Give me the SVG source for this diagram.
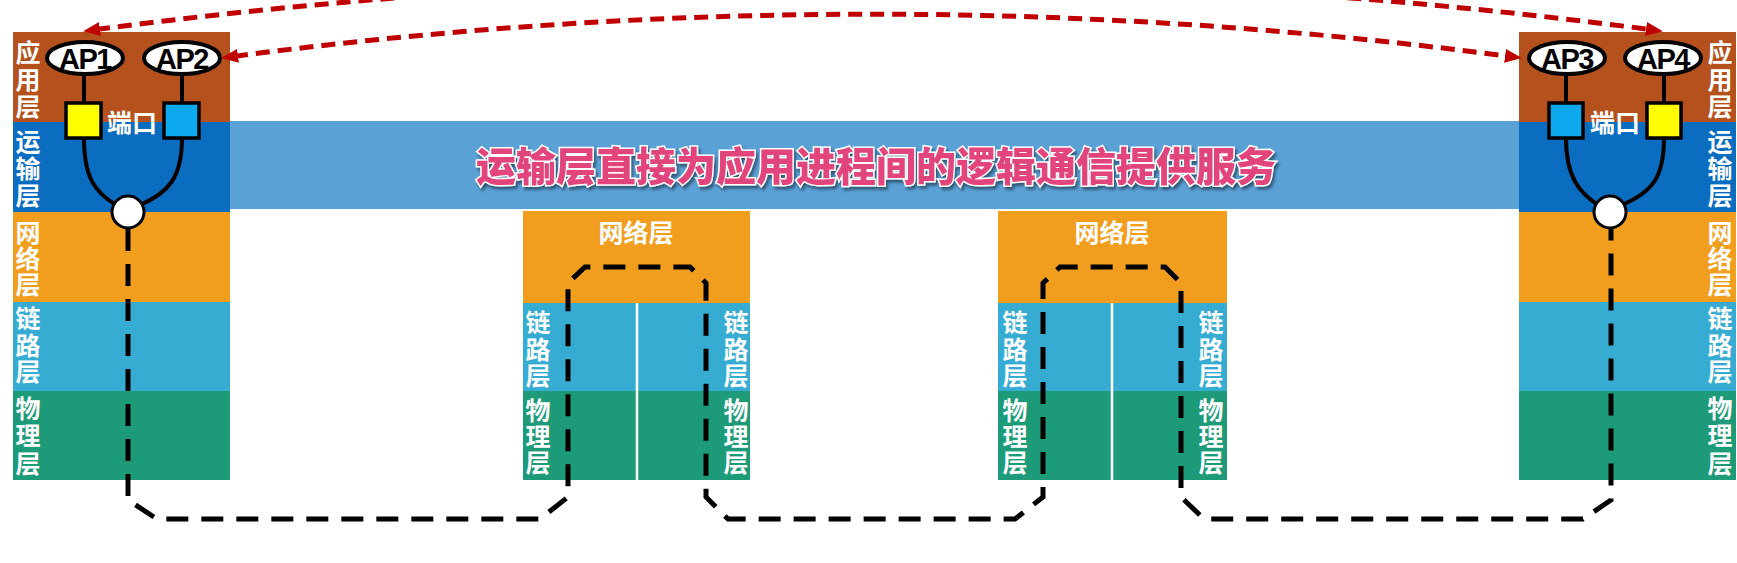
<svg xmlns="http://www.w3.org/2000/svg" width="1737" height="563" viewBox="0 0 1737 563">
<defs>
<style>
.app{fill:#B5511C}
.tra{fill:#0A6DBF}
.net{fill:#F19E1F}
.lnk{fill:#36ACD2}
.phy{fill:#1D9A77}
.lbl{font-family:"Liberation Sans","Noto Sans CJK SC",sans-serif;font-weight:bold;font-size:25px;fill:#fff;text-anchor:middle}
.ap{fill:#fff;stroke:#000;stroke-width:4}
.apt{font-family:"Liberation Sans",sans-serif;font-weight:bold;font-size:29px;fill:#000;text-anchor:middle;letter-spacing:-1.5px}
.wire{fill:none;stroke:#000;stroke-width:4}
.port{stroke:#000;stroke-width:3.5}
.path{fill:none;stroke:#000;stroke-width:5;stroke-dasharray:22 13}
.red{fill:none;stroke:#C00000;stroke-width:5;stroke-dasharray:14 8}
.title{font-family:"Noto Sans CJK SC",sans-serif;font-weight:900;font-size:40px;fill:#E2447C;stroke:#fff;stroke-width:3;paint-order:stroke;text-anchor:middle}
</style>
<marker id="ah" markerUnits="userSpaceOnUse" markerWidth="18" markerHeight="14" refX="4" refY="7" orient="auto-start-reverse">
<path d="M0,0 L17,7 L0,14 z" fill="#C00000"/>
</marker>
<filter id="sh" x="-5%" y="-30%" width="110%" height="160%">
<feDropShadow dx="2" dy="3" stdDeviation="1.5" flood-color="#000" flood-opacity="0.45"/>
</filter>
</defs>
<rect width="1737" height="563" fill="#fff"/>

<g id="band">
<rect x="230" y="121" width="1289" height="88" fill="#5AA1D6"/>
<text class="title" x="876" y="181" filter="url(#sh)">运输层直接为应用进程间的逻辑通信提供服务</text>
</g>

<g id="host-left">
<rect class="app" x="13" y="32" width="217" height="90"/>
<rect class="tra" x="13" y="122" width="217" height="90"/>
<rect class="net" x="13" y="212" width="217" height="90"/>
<rect class="lnk" x="13" y="302" width="217" height="89"/>
<rect class="phy" x="13" y="391" width="217" height="89"/>
<text class="lbl"><tspan x="28" y="62">应</tspan><tspan x="28" y="89">用</tspan><tspan x="28" y="116">层</tspan></text>
<text class="lbl"><tspan x="28" y="151">运</tspan><tspan x="28" y="178">输</tspan><tspan x="28" y="205">层</tspan></text>
<text class="lbl"><tspan x="28" y="242">网</tspan><tspan x="28" y="268">络</tspan><tspan x="28" y="294">层</tspan></text>
<text class="lbl"><tspan x="28" y="328">链</tspan><tspan x="28" y="355">路</tspan><tspan x="28" y="381">层</tspan></text>
<text class="lbl"><tspan x="28" y="418">物</tspan><tspan x="28" y="445">理</tspan><tspan x="28" y="473">层</tspan></text>
<line class="wire" x1="84" y1="74" x2="84" y2="104"/>
<line class="wire" x1="182" y1="74" x2="182" y2="104"/>
<path class="wire" d="M84 138 C84 178 95 192 116 205"/>
<path class="wire" d="M182 138 C182 178 168 193 140 205"/>
<rect class="port" x="66" y="103" width="35" height="35" fill="#FFFF00"/>
<rect class="port" x="164" y="103" width="35" height="35" fill="#0DA9EE"/>
<text class="lbl" x="132" y="132">端口</text>
<ellipse class="ap" cx="85" cy="58" rx="38" ry="16"/>
<text class="apt" x="85" y="69">AP1</text>
<ellipse class="ap" cx="182" cy="58" rx="38" ry="16"/>
<text class="apt" x="182" y="69">AP2</text>
<circle cx="128" cy="212" r="16" fill="#fff" stroke="#000" stroke-width="3"/>
</g>

<g id="host-right">
<rect class="app" x="1519" y="32" width="217" height="90"/>
<rect class="tra" x="1519" y="122" width="217" height="90"/>
<rect class="net" x="1519" y="212" width="217" height="90"/>
<rect class="lnk" x="1519" y="302" width="217" height="89"/>
<rect class="phy" x="1519" y="391" width="217" height="89"/>
<text class="lbl"><tspan x="1720" y="62">应</tspan><tspan x="1720" y="89">用</tspan><tspan x="1720" y="116">层</tspan></text>
<text class="lbl"><tspan x="1720" y="151">运</tspan><tspan x="1720" y="178">输</tspan><tspan x="1720" y="205">层</tspan></text>
<text class="lbl"><tspan x="1720" y="242">网</tspan><tspan x="1720" y="268">络</tspan><tspan x="1720" y="294">层</tspan></text>
<text class="lbl"><tspan x="1720" y="328">链</tspan><tspan x="1720" y="355">路</tspan><tspan x="1720" y="381">层</tspan></text>
<text class="lbl"><tspan x="1720" y="418">物</tspan><tspan x="1720" y="445">理</tspan><tspan x="1720" y="473">层</tspan></text>
<line class="wire" x1="1566" y1="74" x2="1566" y2="104"/>
<line class="wire" x1="1664" y1="74" x2="1664" y2="104"/>
<path class="wire" d="M1566 138 C1566 178 1580 193 1598 205"/>
<path class="wire" d="M1664 138 C1664 178 1652 192 1622 205"/>
<rect class="port" x="1549" y="103" width="34" height="35" fill="#0DA9EE"/>
<rect class="port" x="1647" y="103" width="34" height="35" fill="#FFFF00"/>
<text class="lbl" x="1615" y="132">端口</text>
<ellipse class="ap" cx="1567" cy="58" rx="38" ry="16"/>
<text class="apt" x="1567" y="69">AP3</text>
<ellipse class="ap" cx="1663" cy="58" rx="38" ry="16"/>
<text class="apt" x="1663" y="69">AP4</text>
<circle cx="1610" cy="212" r="16" fill="#fff" stroke="#000" stroke-width="3"/>
</g>

<g id="router-1">
<rect class="net" x="523" y="211" width="227" height="92"/>
<rect class="lnk" x="523" y="303" width="227" height="88"/>
<rect class="phy" x="523" y="391" width="227" height="89"/>
<line x1="637" y1="303" x2="637" y2="480" stroke="#fff" stroke-width="2.5"/>
<text class="lbl" x="636" y="242" font-size="23">网络层</text>
<text class="lbl"><tspan x="538" y="332">链</tspan><tspan x="538" y="359">路</tspan><tspan x="538" y="385">层</tspan></text>
<text class="lbl"><tspan x="538" y="420">物</tspan><tspan x="538" y="446">理</tspan><tspan x="538" y="472">层</tspan></text>
<text class="lbl"><tspan x="736" y="332">链</tspan><tspan x="736" y="359">路</tspan><tspan x="736" y="385">层</tspan></text>
<text class="lbl"><tspan x="736" y="420">物</tspan><tspan x="736" y="446">理</tspan><tspan x="736" y="472">层</tspan></text>
</g>

<g id="router-2">
<rect class="net" x="998" y="211" width="229" height="92"/>
<rect class="lnk" x="998" y="303" width="229" height="88"/>
<rect class="phy" x="998" y="391" width="229" height="89"/>
<line x1="1112" y1="303" x2="1112" y2="480" stroke="#fff" stroke-width="2.5"/>
<text class="lbl" x="1112" y="242" font-size="23">网络层</text>
<text class="lbl"><tspan x="1015" y="332">链</tspan><tspan x="1015" y="359">路</tspan><tspan x="1015" y="385">层</tspan></text>
<text class="lbl"><tspan x="1015" y="420">物</tspan><tspan x="1015" y="446">理</tspan><tspan x="1015" y="472">层</tspan></text>
<text class="lbl"><tspan x="1211" y="332">链</tspan><tspan x="1211" y="359">路</tspan><tspan x="1211" y="385">层</tspan></text>
<text class="lbl"><tspan x="1211" y="420">物</tspan><tspan x="1211" y="446">理</tspan><tspan x="1211" y="472">层</tspan></text>
</g>

<g id="connectors">
<path class="path" d="M128 229 L128 500 L157 519 L540 519 L568 497 L568 283 L585 267 L690 267 L706 283 L706 497 L728 519 L1015 519 L1043 497 L1043 283 L1060 267 L1165 267 L1181 283 L1181 497 L1204 519 L1583 519 L1611 500 L1611 229"/>
<path class="red" d="M96 29.5 Q873 -72 1650 29.5" marker-start="url(#ah)" marker-end="url(#ah)"/>
<path class="red" d="M234 56.4 Q873 -28 1509 56.4" marker-start="url(#ah)" marker-end="url(#ah)"/>
</g>
</svg>
